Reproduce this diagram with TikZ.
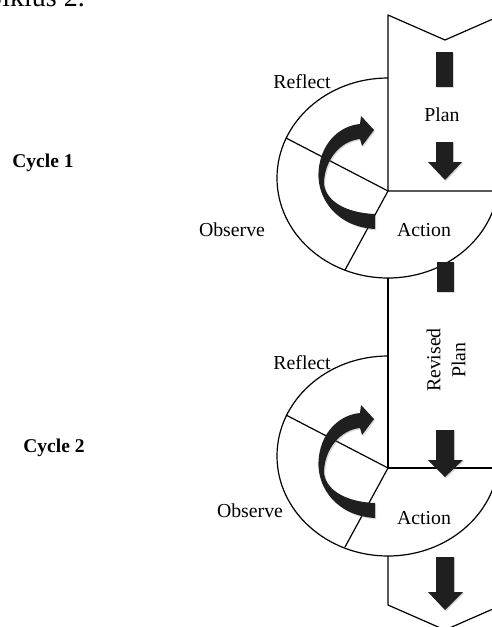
\documentclass[tikz,border=0pt]{standalone}
\usepackage{fontspec}
\setmainfont{Liberation Serif}
\usetikzlibrary{shadows}

\tikzset{
  ln/.style={line width=1.2pt, line join=round},
  lbl/.style={inner sep=0pt, font=\fontsize{19.8}{25}\selectfont},
  cyc/.style={inner sep=0pt, font=\fontsize{19.5}{22}\selectfont\bfseries},
  blk/.style={fill=black!88, drop shadow={opacity=0.3, shadow xshift=1.2pt, shadow yshift=-1.2pt}},
}

\begin{document}
\begin{tikzpicture}[x=1pt,y=-1pt]
\clip (0,0) rectangle (492,627);
\node[lbl, font=\fontsize{28}{30}\selectfont, anchor=base east] (head) at (85,6) {Siklus 2.};

\coordinate (top) at (388,15);
\coordinate (v1) at (388,191);
\coordinate (b1) at (388,278);
\coordinate (v2) at (388,468);
\coordinate (b2) at (388,556);
\coordinate (bot) at (388,605);

% spine and chevrons
\draw[ln] (502,15) -- (445,40) -- (top) -- (v1) -- (500,191);
\draw[ln] (b1) -- (v2) -- (500,468);
\draw[ln] (b2) -- (bot) -- (445,630) -- (502,605);

% the two rings
\draw[ln] (388,78) arc[start angle=270, end angle=10, x radius=111, y radius=100];
\draw[ln] (286,138) -- (v1) -- (345,270);
\draw[ln] (388,356) arc[start angle=270, end angle=10, x radius=111, y radius=100];
\draw[ln] (286,415) -- (v2) -- (345,547);

% block arrows
\fill[blk] (436,52) rectangle (453,87);
\fill[blk] (436,142) -- (453,142) -- (453,162) -- (462,162) -- (445,180) -- (428,162) -- (436,162) -- cycle;
\fill[blk] (437,262) rectangle (454,292);
\fill[blk] (436,430) -- (454,430) -- (454,460) -- (463,460) -- (445,477) -- (428,460) -- (436,460) -- cycle;
\fill[blk] (436,557) -- (454,557) -- (454,592) -- (463,592) -- (445,610) -- (428,592) -- (436,592) -- cycle;

% turning arrows
\foreach \dy in {0,289}{
  \fill[blk, shift={(0,\dy)}] (360,124) .. controls (338,126) and (320,145) .. (318.5,172)
    .. controls (317,200) and (338,227) .. (375,229) -- (375,214)
    .. controls (345,213) and (324,200) .. (324,182)
    .. controls (325,160) and (340,141) .. (360,139)
    -- (362,146) -- (374,130) -- (361,116) -- cycle;
}

\node[lbl] (refl1) at (302,82) {Reflect};
\node[lbl] (plan1) at (442,115) {Plan};
\node[lbl] (obs1) at (232,230) {Observe};
\node[lbl] (act1) at (424,230) {Action};
\node[cyc] (cyc1) at (43,163) {Cycle 1};

\node[lbl] (refl2) at (302,363) {Reflect};
\node[lbl, rotate=90, align=center] (plan2) at (446,360) {Revised\\Plan};
\node[lbl] (obs2) at (250,511) {Observe};
\node[lbl] (act2) at (424,518) {Action};
\node[cyc] (cyc2) at (54,448) {Cycle 2};
\end{tikzpicture}
\end{document}
